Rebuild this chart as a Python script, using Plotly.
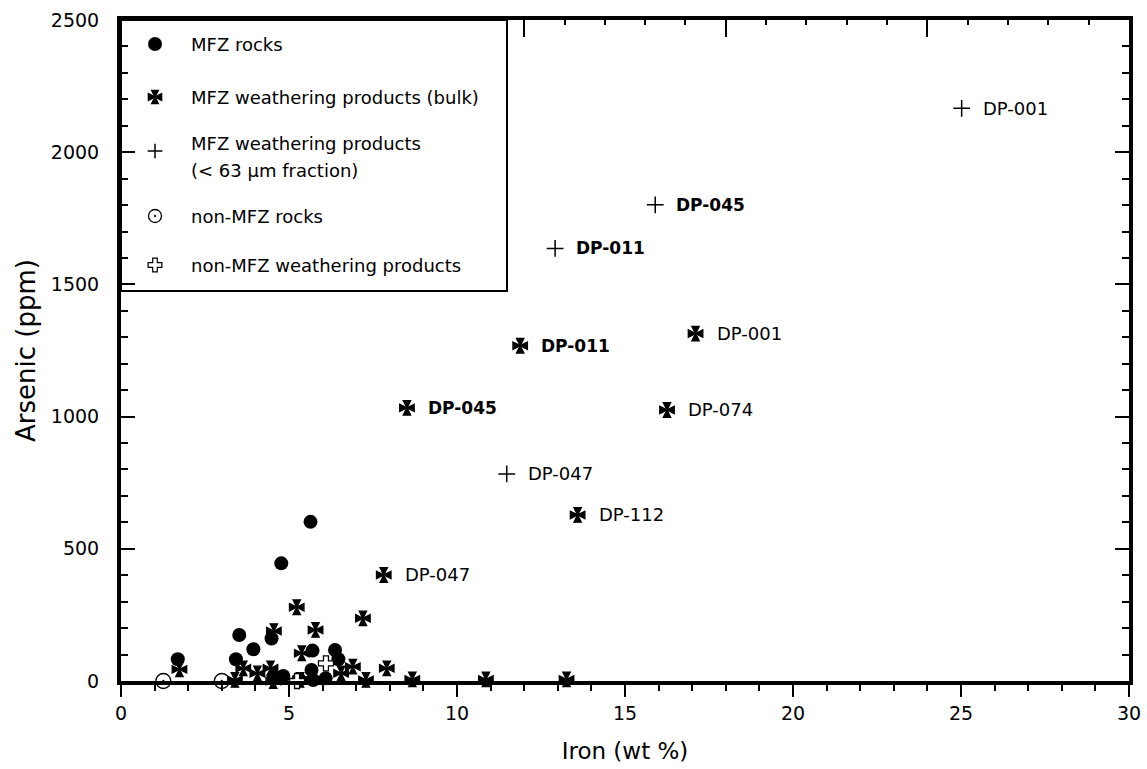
import plotly.graph_objects as go

# ---------------- data ----------------
rock_fe = [1.69, 3.52, 3.42, 3.94, 4.48, 4.77, 5.64, 5.70, 6.37, 6.47, 5.67, 4.83, 4.55, 5.72, 6.09, 5.30]
rock_as = [82, 174, 82, 120, 161, 445, 602, 115, 117, 82, 42, 19, 16, 4, 10, 8]

bulk_fe = [1.74, 4.55, 5.23, 5.79, 7.20, 5.38, 3.64, 4.06, 4.45, 3.39, 4.53, 5.33, 6.90, 6.55, 7.29,
           7.91, 8.67, 10.86, 13.26, 11.88, 17.10, 8.51, 16.25, 13.59, 7.82]
bulk_as = [44, 189, 279, 193, 237, 105, 48, 29, 48, 4, 0, 4, 54, 29, 4,
           48, 6, 6, 6, 1268, 1314, 1033, 1025, 628, 401]
bulk_label = [""] * 19 + ["DP-011", "DP-001", "DP-045", "DP-074", "DP-112", "DP-047"]

fine_fe = [25.02, 15.90, 12.92, 11.48]
fine_as = [2166, 1801, 1636, 783]
fine_label = ["DP-001", "DP-045", "DP-011", "DP-047"]

nonrock_fe = [1.26, 3.0]
nonrock_as = [0, 0]

nonwp_fe = [6.10, 5.24]
nonwp_as = [67, 0]

bold_labels = ["DP-045", "DP-011"]

legend_texts = ["MFZ rocks", "MFZ weathering products (bulk)",
                "MFZ weathering products", "non-MFZ rocks", "non-MFZ weathering products"]
legend_text2 = "(&lt; 63 μm fraction)"

top_major_ticks = [12, 18, 24, 30]
top_minor_ticks = [13.2, 14.4, 15.6, 16.8, 19.2, 20.4, 21.6, 22.8, 25.2, 26.4, 27.6, 28.8]

x_title = "Iron (wt %)"
y_title = "Arsenic (ppm)"

FONT = "DejaVu Sans"

# ---------------- figure ----------------
W, H = 1147, 769
ML, MR, MT, MB = 121, 18, 20, 88
PW, PH = W - ML - MR, H - MT - MB
BOTTOM = H - MB


def px_x(px):
    return (px - ML) / PW


def px_y(py):
    return (BOTTOM - py) / PH


# marker styles
ROCK = dict(symbol="circle", size=14, color="black", line=dict(width=0))
MALTESE_ARMS = ["arrow-up", "arrow-down", "arrow-left", "arrow-right"]
FINE = dict(symbol="cross-thin-open", size=12, color="black", line=dict(width=1.5, color="black"))
NONROCK = dict(symbol="circle-open-dot", size=15, color="black", line=dict(width=1.3, color="black"))
NONWP = dict(symbol="cross", size=12.5, color="white", line=dict(width=1.3, color="black"))


def maltese(size):
    return [dict(symbol=s, size=size, color="black", line=dict(width=1.4, color="black"))
            for s in MALTESE_ARMS]


fig = go.Figure()

fig.add_trace(go.Scatter(x=rock_fe, y=rock_as, mode="markers", cliponaxis=False,
                         marker=ROCK, name="MFZ rocks"))
for mk in maltese(7.2):
    fig.add_trace(go.Scatter(x=bulk_fe, y=bulk_as, mode="markers", cliponaxis=False,
                             marker=mk, name="MFZ weathering products (bulk)"))
fig.add_trace(go.Scatter(x=fine_fe, y=fine_as, mode="markers", cliponaxis=False,
                         marker=FINE, name="MFZ weathering products (< 63 μm fraction)"))
fig.add_trace(go.Scatter(x=nonrock_fe, y=nonrock_as, mode="markers", cliponaxis=False,
                         marker=NONROCK, name="non-MFZ rocks"))
fig.add_trace(go.Scatter(x=nonwp_fe, y=nonwp_as, mode="markers", cliponaxis=False,
                         marker=NONWP, name="non-MFZ weathering products"))
# carrier for the top axis
fig.add_trace(go.Scatter(x=[], y=[], xaxis="x2", yaxis="y", showlegend=False, hoverinfo="skip"))

# ---- legend keys, drawn on a pixel-unit overlay axis ----
KEY_X = 155 - ML
rows = [44, 97, 151, 216, 265]
key_styles = [[dict(ROCK, size=14)], maltese(6.6), [dict(FINE, size=10.5)],
              [dict(NONROCK, size=13)], [dict(NONWP, size=11.5, line=dict(width=1.2, color="black"))]]
for ry, styles in zip(rows, key_styles):
    for st in styles:
        fig.add_trace(go.Scatter(x=[KEY_X], y=[BOTTOM - ry], xaxis="x3", yaxis="y3", mode="markers",
                                 marker=st, hoverinfo="skip", cliponaxis=False))

annotations = []
# point labels
for fe, arsenic, lab in list(zip(bulk_fe, bulk_as, bulk_label)) + list(zip(fine_fe, fine_as, fine_label)):
    if not lab:
        continue
    bold = lab in bold_labels
    annotations.append(dict(x=fe, y=arsenic, xref="x", yref="y", xanchor="left", yanchor="middle",
                            xshift=19, showarrow=False,
                            text=f"<b>{lab}</b>" if bold else lab,
                            font=dict(family=FONT, size=17 if bold else 18, color="black")))

# legend texts
txt_x = px_x(189)
text_rows = [44, 97, 143, 216, 265]
for txt, ry in zip(legend_texts, text_rows):
    annotations.append(dict(x=txt_x, y=px_y(ry), xref="paper", yref="paper", xanchor="left",
                            yanchor="middle", showarrow=False, text=txt,
                            font=dict(family=FONT, size=18, color="black")))
annotations.append(dict(x=txt_x, y=px_y(170), xref="paper", yref="paper", xanchor="left",
                        yanchor="middle", showarrow=False, text=legend_text2,
                        font=dict(family=FONT, size=18, color="black")))

shapes = [dict(type="rect", xref="paper", yref="paper", x0=0, x1=px_x(507), y0=px_y(291), y1=1,
               fillcolor="white", line=dict(color="black", width=2), layer="below")]

fig.update_layout(
    width=W, height=H,
    margin=dict(l=ML, r=MR, t=MT, b=MB, autoexpand=False),
    plot_bgcolor="white", paper_bgcolor="white",
    font=dict(family=FONT, color="black"),
    showlegend=False,
    annotations=annotations,
    shapes=shapes,
    xaxis=dict(range=[0, 30], tick0=0, dtick=5, ticks="outside", ticklen=12, tickwidth=1.5,
               tickcolor="black", showline=True, linewidth=4, linecolor="black", mirror=False,
               showgrid=False, zeroline=False, automargin=False,
               minor=dict(dtick=1, ticks="outside", ticklen=6, tickwidth=1.5, tickcolor="black"),
               tickfont=dict(family=FONT, size=19, color="black"),
               title=dict(text=x_title, font=dict(family=FONT, size=23, color="black"), standoff=21)),
    xaxis2=dict(overlaying="x", side="top", anchor="y", range=[0, 30], automargin=False,
                tickmode="array", tickvals=top_major_ticks,
                ticks="inside", ticklen=17, tickwidth=1.5, tickcolor="black",
                showline=True, linewidth=4, linecolor="black", showgrid=False, zeroline=False,
                showticklabels=False,
                minor=dict(tickmode="array", tickvals=top_minor_ticks, ticks="inside", ticklen=5,
                           tickwidth=1.5, tickcolor="black")),
    xaxis3=dict(overlaying="x", anchor="y3", range=[0, PW], visible=False, automargin=False),
    yaxis3=dict(overlaying="y", anchor="x3", range=[0, PH], visible=False, automargin=False),
    yaxis=dict(range=[0, 2500], tick0=0, dtick=500, ticks="inside", ticklen=14, tickwidth=1.5,
               tickcolor="black", showline=True, linewidth=4, linecolor="black", mirror="ticks",
               showgrid=False, zeroline=False, automargin=False,
               minor=dict(dtick=100, ticks="inside", ticklen=7, tickwidth=1.5, tickcolor="black"),
               tickfont=dict(family=FONT, size=19, color="black"), ticklabelstandoff=14,
               title=dict(text=y_title, font=dict(family=FONT, size=26, color="black"), standoff=9)),
)

fig.write_html("out.html")
